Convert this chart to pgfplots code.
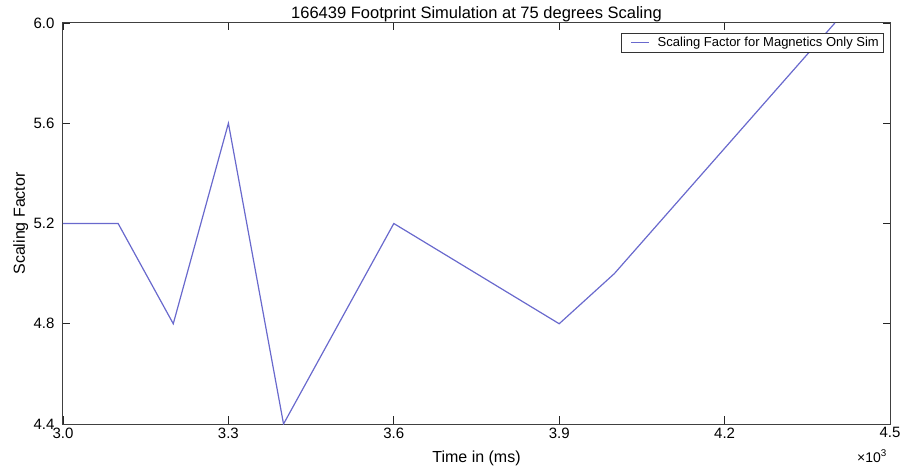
\documentclass[border=0pt]{standalone}
\usepackage{pgfplots}
\pgfplotsset{compat=1.18}
\usepackage{fontspec}
\setmainfont{Liberation Sans}
\definecolor{lineblue}{RGB}{105,105,205}
\begin{document}
\begin{tikzpicture}
\begin{axis}[
  scale only axis,
  width=827pt, height=401pt,
  xmin=3000, xmax=4500, ymin=4.4, ymax=6.0,
  xtick={3000,3300,3600,3900,4200,4500},
  xticklabels={3.0,3.3,3.6,3.9,4.2,4.5},
  ytick={4.4,4.8,5.2,5.6,6.0},
  yticklabel style={/pgf/number format/fixed,/pgf/number format/fixed zerofill,/pgf/number format/precision=1, xshift=-5pt},
  /pgf/number format/assume math mode=true,
  scaled x ticks=false,
  tick align=inside,
  major tick length=7.5pt,
  tick style={black!85, line width=0.7pt},
  axis line style={black!75, line width=1pt},
  ticklabel style={font=\fontsize{15}{17}\selectfont},
  title={166439 Footprint Simulation at 75 degrees Scaling},
  title style={font=\fontsize{16.5}{18}\selectfont, at={(axis description cs:0.5,1)}, anchor=base, yshift=-2pt},
  xlabel={Time in (ms)},
  ylabel={Scaling Factor},
  label style={font=\fontsize{16}{18}\selectfont},
  xlabel style={at={(axis description cs:0.5,0)}, anchor=base, yshift=-38pt},
  ylabel style={at={([xshift=-38pt]axis description cs:0,0.5)}, anchor=base},
  legend style={at={(0.993,0.975)}, anchor=north east, font=\fontsize{13}{15}\selectfont, draw=black!80, line width=0.8pt, inner xsep=3pt, inner ysep=2pt},
  legend cell align=left,
  legend image code/.code={\path (0pt,0pt) (30pt,0pt); \draw[#1, line width=1.2pt] (6pt,0pt) -- (24pt,0pt);},
  clip mode=individual,
]
\addplot[color=lineblue, line width=1.2pt] coordinates {
  (3000,5.2) (3100,5.2) (3200,4.8) (3300,5.6) (3400,4.4) (3500,4.8)
  (3600,5.2) (3700,5.0667) (3800,4.9333) (3900,4.8) (4000,5.0) (4100,5.25)
  (4200,5.5) (4300,5.75) (4400,6.0)
};
\addlegendentry{Scaling Factor for Magnetics Only Sim}
\coordinate (SW) at (rel axis cs:0,0);
\coordinate (NE) at (rel axis cs:1,1);
\node[anchor=base east, font=\fontsize{14}{16}\selectfont, inner sep=0pt] at ([xshift=-3pt, yshift=-38pt]rel axis cs:1,0) {×10\textsuperscript{3}};
\end{axis}
\pgfresetboundingbox
\path[use as bounding box] ([xshift=-63pt,yshift=-47pt]SW) rectangle ([xshift=14pt,yshift=23pt]NE);
\end{tikzpicture}
\end{document}
